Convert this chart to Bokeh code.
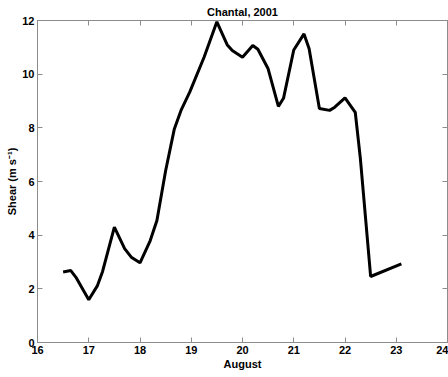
from bokeh.plotting import figure
from bokeh.models import LinearAxis, Range1d, FixedTicker
from bokeh.embed import file_html
from bokeh.resources import INLINE

days = [16.5, 16.65, 16.75, 17.0, 17.17, 17.27, 17.5, 17.7, 17.83, 18.0, 18.2, 18.33,
        18.5, 18.67, 18.8, 18.97, 19.25, 19.5, 19.7, 19.8, 20.0, 20.2, 20.3, 20.5,
        20.7, 20.8, 21.0, 21.2, 21.3, 21.5, 21.7, 21.8, 22.0, 22.2, 22.3, 22.5, 23.1]
shear = [2.63, 2.68, 2.43, 1.59, 2.12, 2.65, 4.3, 3.5, 3.18, 2.97, 3.8, 4.55,
         6.4, 7.96, 8.65, 9.33, 10.63, 11.95, 11.1, 10.88, 10.63, 11.07, 10.93, 10.2,
         8.8, 9.1, 10.9, 11.5, 10.95, 8.72, 8.65, 8.77, 9.12, 8.58, 6.85, 2.46, 2.93]
x_ticks = [16, 17, 18, 19, 20, 21, 22, 23, 24]
y_ticks = [0, 2, 4, 6, 8, 10, 12]

FONT = "Liberation Sans"
GRAY = "#8c8c8c"

p = figure(width=448, height=377, output_backend="svg", toolbar_location=None,
           x_range=Range1d(16, 24), y_range=Range1d(0, 12),
           min_border_left=37, min_border_right=1, min_border_top=20, min_border_bottom=35,
           title="Chantal, 2001")
p.title.align = "center"
p.title.text_font = FONT
p.title.text_font_size = "11px"
p.title.text_font_style = "bold"
p.title.text_color = "black"
p.title.offset = 0
p.title.standoff = 6
p.grid.visible = False
p.outline_line_color = GRAY
p.background_fill_color = "white"
p.border_fill_color = "white"

p.line(days, shear, line_width=3, line_color="black")

def style(ax, ticks, labels=True):
    ax.ticker = FixedTicker(ticks=ticks)
    ax.major_tick_in = 5
    ax.major_tick_out = 0
    ax.minor_tick_in = 0
    ax.minor_tick_out = 0
    ax.axis_line_color = GRAY
    ax.major_tick_line_color = GRAY
    ax.major_label_text_font = FONT
    ax.major_label_text_font_size = "11px"
    ax.major_label_text_font_style = "bold"
    ax.major_label_text_color = "black"
    ax.axis_label_text_font = FONT
    ax.axis_label_text_font_size = "11px"
    ax.axis_label_text_font_style = "bold"
    ax.axis_label_text_color = "black"
    if not labels:
        ax.major_label_overrides = {t: "" for t in ticks}
        ax.major_label_standoff = 0

style(p.xaxis[0], x_ticks)
style(p.yaxis[0], y_ticks)
p.xaxis[0].axis_label = "August"
p.xaxis[0].major_label_standoff = 3
p.xaxis[0].axis_label_standoff = 1
p.yaxis[0].axis_label = "Shear (m s\u207b\u00b9)"
p.yaxis[0].major_label_standoff = 3
p.yaxis[0].axis_label_standoff = 1

top = LinearAxis()
style(top, x_ticks, labels=False)
p.add_layout(top, "above")
right = LinearAxis()
style(right, y_ticks, labels=False)
p.add_layout(right, "right")

open("out.html", "w").write(file_html(p, INLINE))
